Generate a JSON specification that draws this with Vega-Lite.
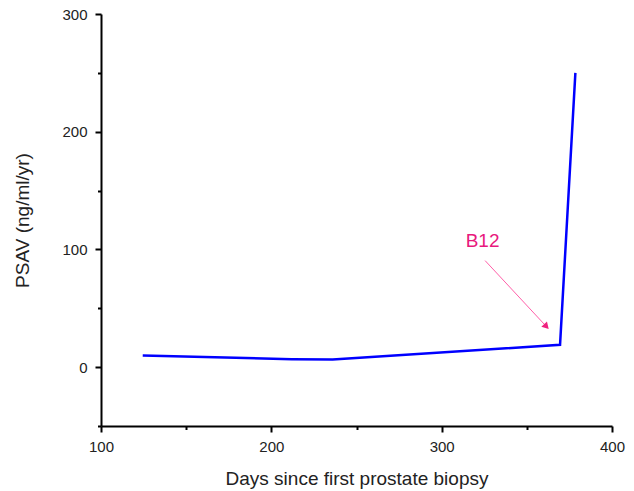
{
  "$schema": "https://vega.github.io/schema/vega-lite/v6.json",
  "width": 511,
  "height": 412,
  "autosize": "none",
  "padding": {"left": 101, "top": 14, "right": 22, "bottom": 65},
  "background": "white",
  "config": {
    "view": {"stroke": null},
    "font": "Liberation Sans",
    "axis": {
      "grid": false,
      "domainColor": "#000000",
      "domainWidth": 2,
      "domainOpacity": 1,
      "tickColor": "#000000",
      "tickWidth": 2,
      "tickOpacity": 1,
      "labelFont": "Liberation Sans",
      "titleFont": "Liberation Sans",
      "labelColor": "#222",
      "titleColor": "#222",
      "labelFontSize": 15,
      "titleFontWeight": "normal"
    }
  },
  "datasets": {
    "series": [
      {"day": 124.5, "psav": 9.8},
      {"day": 212, "psav": 6.8},
      {"day": 236, "psav": 6.5},
      {"day": 369.5, "psav": 19},
      {"day": 378.5, "psav": 250}
    ],
    "note": [
      {"label": "B12", "tx": 324, "ty": 107, "x1": 325.5, "y1": 90.5, "x2": 361.5, "y2": 34.5, "ang": 137}
    ]
  },
  "resolve": {"axis": {"x": "independent", "y": "independent"}},
  "layer": [
    {
      "data": {"name": "series"},
      "mark": {"type": "line", "color": "#0000ff", "strokeWidth": 2.5},
      "encoding": {
        "x": {
          "field": "day", "type": "quantitative",
          "scale": {"domain": [100, 400], "nice": false, "zero": false},
          "axis": {"values": [100, 200, 300, 400], "tickSize": 6, "labelPadding": 7, "title": "Days since first prostate biopsy", "titleFontSize": 19, "titlePadding": 15, "labelFlush": false}
        },
        "y": {
          "field": "psav", "type": "quantitative",
          "scale": {"domain": [-50, 300], "nice": false, "zero": false},
          "axis": {"values": [0, 100, 200, 300], "tickSize": 6, "labelPadding": 8, "title": "PSAV (ng/ml/yr)", "titleFontSize": 19, "titlePadding": 29, "labelFlush": false}
        }
      }
    },
    {
      "data": {"name": "note"},
      "layer": [
        {
          "mark": {"type": "rule", "color": "#ff5fa8", "strokeWidth": 1},
          "encoding": {
            "x": {"field": "x1", "type": "quantitative", "scale": {"domain": [100, 400], "nice": false, "zero": false},
              "axis": {"orient": "bottom", "values": [150, 250, 350], "tickSize": 3.5, "labels": false, "domain": false, "title": null}},
            "y": {"field": "y1", "type": "quantitative", "scale": {"domain": [-50, 300], "nice": false, "zero": false},
              "axis": {"orient": "left", "values": [-50, 50, 150, 250], "tickSize": 3.5, "labels": false, "domain": false, "title": null}},
            "x2": {"field": "x2"},
            "y2": {"field": "y2"}
          }
        },
        {
          "mark": {"type": "point", "shape": "triangle-up", "filled": true, "color": "#f0207f", "size": 60, "opacity": 1},
          "encoding": {
            "x": {"field": "x2", "type": "quantitative"},
            "y": {"field": "y2", "type": "quantitative"},
            "angle": {"field": "ang", "type": "quantitative", "scale": null}
          }
        },
        {
          "mark": {"type": "text", "color": "#e8197d", "fontSize": 19, "font": "Liberation Sans"},
          "encoding": {
            "x": {"field": "tx", "type": "quantitative"},
            "y": {"field": "ty", "type": "quantitative"},
            "text": {"field": "label"}
          }
        }
      ]
    }
  ]
}
